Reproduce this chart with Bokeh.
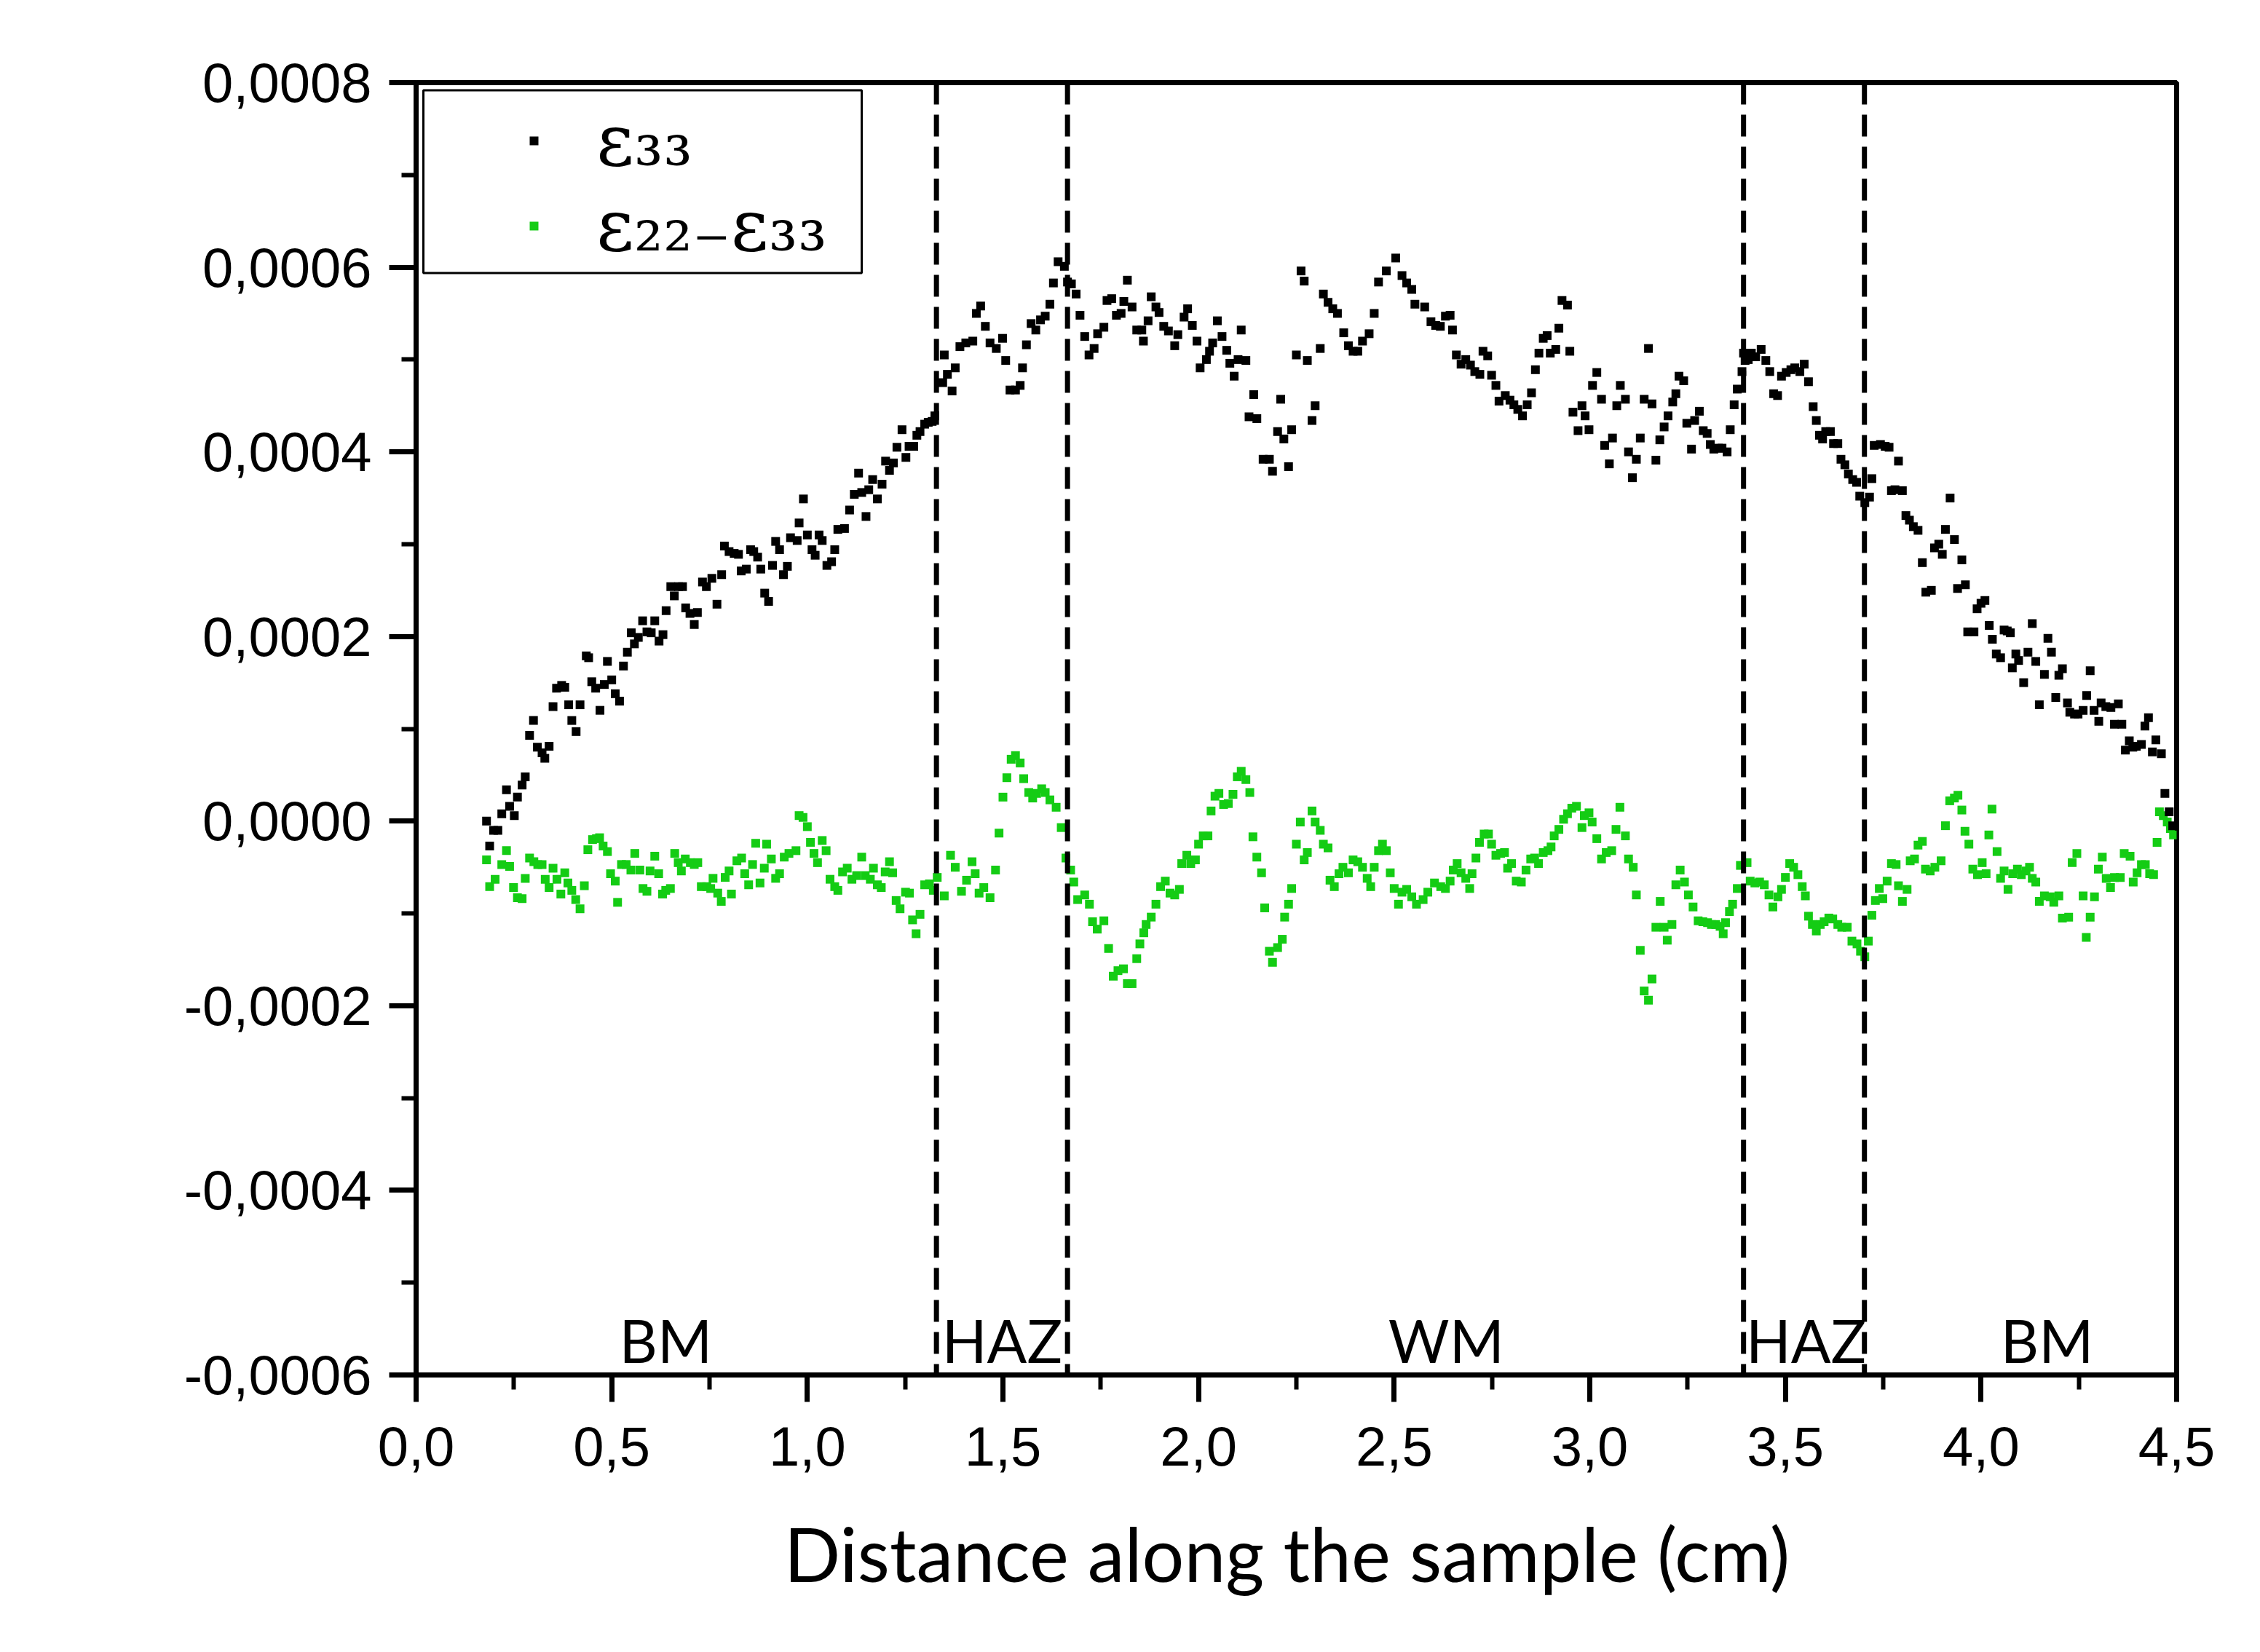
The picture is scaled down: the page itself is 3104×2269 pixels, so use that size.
from bokeh.plotting import figure
from bokeh.models import Range1d, FixedTicker, Span, BoxAnnotation, Legend, LegendItem
from bokeh.embed import file_html
from bokeh.resources import INLINE

# ---------------- data (strain in units of 1e-4, distance in cm) ----------------
eps33_x = [
    0.180, 0.188, 0.198, 0.209, 0.219, 0.231, 0.239, 0.251, 0.259, 0.271,
    0.279, 0.290, 0.300, 0.310, 0.322, 0.329, 0.340, 0.350, 0.359, 0.372,
    0.380, 0.390, 0.398, 0.409, 0.419, 0.435, 0.441, 0.449, 0.459, 0.470,
    0.481, 0.489, 0.500, 0.509, 0.520, 0.530, 0.540, 0.550, 0.558, 0.568,
    0.579, 0.590, 0.601, 0.610, 0.621, 0.631, 0.639, 0.651, 0.660, 0.671,
    0.681, 0.689, 0.700, 0.711, 0.719, 0.732, 0.742, 0.756, 0.769, 0.781,
    0.788, 0.800, 0.813, 0.824, 0.831, 0.844, 0.855, 0.863, 0.873, 0.881,
    0.891, 0.901, 0.911, 0.919, 0.929, 0.939, 0.949, 0.957, 0.974, 0.979,
    0.990, 1.000, 1.012, 1.020, 1.030, 1.038, 1.050, 1.062, 1.070, 1.078,
    1.095, 1.108, 1.120, 1.131, 1.139, 1.150, 1.157, 1.167, 1.179, 1.191,
    1.200, 1.210, 1.220, 1.229, 1.242, 1.252, 1.260, 1.272, 1.280, 1.288,
    1.300, 1.309, 1.319, 1.326,
    1.346, 1.350, 1.358, 1.370, 1.378, 1.390, 1.405, 1.423, 1.432, 1.443,
    1.455, 1.467, 1.483, 1.499, 1.507, 1.518, 1.532, 1.544, 1.550, 1.560,
    1.572, 1.584, 1.596, 1.608, 1.620, 1.629, 1.641, 1.657, 1.665, 1.675,
    1.687, 1.697, 1.709, 1.720, 1.733, 1.742, 1.758, 1.766, 1.778, 1.790,
    1.802, 1.809, 1.818, 1.830, 1.842, 1.855, 1.859, 1.871, 1.879, 1.891,
    1.899, 1.911, 1.923, 1.939, 1.947, 1.963, 1.972, 1.984, 1.996, 2.004,
    2.020, 2.028, 2.036, 2.048, 2.060, 2.072, 2.080, 2.091, 2.101, 2.109,
    2.121, 2.129, 2.141, 2.149, 2.165, 2.181, 2.189, 2.202, 2.210, 2.218,
    2.230, 2.238, 2.250, 2.262, 2.270, 2.278, 2.290, 2.298, 2.311, 2.319,
    2.331, 2.343, 2.355, 2.371, 2.383, 2.395, 2.407, 2.419, 2.436, 2.449,
    2.460, 2.480, 2.504, 2.520, 2.532, 2.545, 2.553,
    2.578, 2.594, 2.606, 2.618, 2.631, 2.643, 2.649, 2.659, 2.671, 2.683,
    2.695, 2.706, 2.719, 2.727, 2.739, 2.749, 2.760, 2.768, 2.784, 2.796,
    2.806, 2.816, 2.828, 2.840, 2.851, 2.861, 2.870, 2.881, 2.891, 2.899,
    2.913, 2.921, 2.929, 2.943, 2.949, 2.957, 2.970, 2.980, 2.988, 2.998,
    3.007, 3.018, 3.030, 3.038, 3.050, 3.058, 3.069, 3.078, 3.091, 3.099,
    3.109, 3.119, 3.129, 3.139, 3.150, 3.159, 3.169, 3.179, 3.190, 3.200,
    3.212, 3.220, 3.228, 3.240, 3.248, 3.260, 3.268, 3.280, 3.290, 3.300,
    3.308, 3.317, 3.329, 3.338, 3.351, 3.359, 3.369, 3.377, 3.389, 3.393,
    3.397, 3.405, 3.413, 3.424, 3.438, 3.450, 3.460, 3.470, 3.480, 3.490,
    3.502, 3.514, 3.524, 3.537, 3.548, 3.559, 3.571, 3.579, 3.587, 3.595,
    3.603, 3.615, 3.623, 3.634, 3.642, 3.652, 3.661, 3.672, 3.682, 3.690,
    3.703, 3.715, 3.721, 3.727, 3.743, 3.755, 3.765, 3.771, 3.780, 3.789,
    3.799, 3.808, 3.817, 3.827, 3.839, 3.850, 3.859, 3.873, 3.881, 3.892,
    3.901, 3.909, 3.921, 3.932, 3.940, 3.951, 3.960, 3.966, 3.982, 3.990,
    4.000, 4.010, 4.021, 4.029, 4.039, 4.050, 4.059, 4.067, 4.075, 4.080,
    4.089, 4.096, 4.109, 4.120, 4.131, 4.140, 4.149, 4.162, 4.171, 4.180,
    4.191, 4.199, 4.208, 4.221, 4.227, 4.239, 4.248, 4.261, 4.270, 4.279,
    4.289, 4.301, 4.307, 4.319, 4.332, 4.341, 4.351, 4.360, 4.369, 4.379,
    4.388, 4.397, 4.410, 4.419, 4.428, 4.438, 4.447, 4.461, 4.470, 4.481,
    4.490,
]
eps33_y = [
    0.00, -0.27, -0.10, -0.10, 0.08, 0.34, 0.16, 0.06, 0.26, 0.39,
    0.48, 0.93, 1.09, 0.80, 0.74, 0.68, 0.81, 1.24, 1.44, 1.47,
    1.45, 1.26, 1.09, 0.97, 1.26, 1.79, 1.77, 1.51, 1.44, 1.20,
    1.48, 1.73, 1.53, 1.38, 1.30, 1.68, 1.83, 2.04, 1.92, 1.99,
    2.17, 2.05, 2.04, 2.17, 1.95, 2.02, 2.28, 2.54, 2.44, 2.54,
    2.54, 2.31, 2.25, 2.13, 2.26, 2.59, 2.54, 2.63, 2.35, 2.67,
    2.98, 2.92, 2.90, 2.89, 2.71, 2.73, 2.94, 2.92, 2.86, 2.73,
    2.47, 2.38, 2.77, 3.03, 2.94, 2.67, 2.76, 3.07, 3.04, 3.23,
    3.49, 3.10, 2.94, 2.88, 3.10, 3.04, 2.77, 2.81, 2.94, 3.16,
    3.17, 3.37, 3.54, 3.77, 3.56, 3.30, 3.59, 3.70, 3.49, 3.65,
    3.90, 3.80, 3.88, 4.05, 4.24, 3.94, 4.06, 4.06, 4.18, 4.22,
    4.30, 4.32, 4.33, 4.39,
    4.75, 5.05, 4.84, 4.66, 4.91, 5.14, 5.18, 5.20, 5.50, 5.58,
    5.36, 5.18, 5.12, 5.23, 4.99, 4.67, 4.67, 4.72, 4.91, 5.16,
    5.39, 5.32, 5.43, 5.47, 5.60, 5.83, 6.06, 6.01, 5.84, 5.82,
    5.71, 5.48, 5.25, 5.05, 5.12, 5.28, 5.35, 5.64, 5.66, 5.48,
    5.50, 5.63, 5.86, 5.57, 5.32, 5.32, 5.20, 5.42, 5.68, 5.57,
    5.51, 5.36, 5.31, 5.15, 5.27, 5.46, 5.55, 5.37, 5.20, 4.91,
    5.00, 5.09, 5.18, 5.42, 5.25, 5.10, 4.96, 4.82, 5.00, 5.32,
    4.99, 4.38, 4.62, 4.36, 3.92, 3.92, 3.79, 4.22, 4.57, 4.14,
    3.84, 4.24, 5.05, 5.96, 5.85, 4.99, 4.34, 4.50, 5.12, 5.71,
    5.62, 5.55, 5.50, 5.29, 5.15, 5.09, 5.09, 5.20, 5.28, 5.50,
    5.84, 5.96, 6.10, 5.91, 5.83, 5.76, 5.60,
    5.57, 5.41, 5.37, 5.36, 5.47, 5.48, 5.32, 5.05, 4.95, 5.00,
    4.94, 4.87, 4.84, 5.09, 5.04, 4.83, 4.72, 4.55, 4.61, 4.56,
    4.51, 4.46, 4.39, 4.51, 4.64, 4.89, 5.07, 5.23, 5.26, 5.07,
    5.11, 5.34, 5.64, 5.59, 5.09, 4.43, 4.23, 4.50, 4.39, 4.24,
    4.72, 4.86, 4.57, 4.07, 3.87, 4.15, 4.50, 4.72, 4.57, 4.00,
    3.72, 3.92, 4.15, 4.57, 5.12, 4.52, 3.91, 4.13, 4.27, 4.39,
    4.54, 4.63, 4.82, 4.77, 4.31, 4.03, 4.34, 4.44, 4.23, 4.20,
    4.08, 4.03, 4.04, 4.04, 4.00, 4.24, 4.51, 4.68, 4.87, 5.07,
    4.99, 5.00, 5.07, 5.03, 5.11, 4.99, 4.87, 4.63, 4.61, 4.82,
    4.86, 4.89, 4.91, 4.87, 4.95, 4.76, 4.49, 4.34, 4.18, 4.14,
    4.22, 4.22, 4.09, 4.09, 3.92, 3.86, 3.76, 3.70, 3.67, 3.52,
    3.45, 3.51, 3.71, 4.07, 4.08, 4.06, 4.05, 3.58, 3.59, 3.90,
    3.58, 3.31, 3.26, 3.19, 3.15, 2.80, 2.48, 2.50, 2.96, 3.00,
    2.89, 3.16, 3.50, 3.05, 2.52, 2.83, 2.56, 2.05, 2.05, 2.30,
    2.36, 2.39, 2.12, 1.97, 1.81, 1.77, 2.07, 2.06, 2.04, 1.66,
    1.81, 1.74, 1.50, 1.83, 2.14, 1.73, 1.26, 1.59, 1.98, 1.83,
    1.34, 1.58, 1.65, 1.28, 1.18, 1.16, 1.16, 1.20, 1.36, 1.63,
    1.20, 1.08, 1.28, 1.24, 1.23, 1.05, 1.27, 1.05, 0.77, 0.87,
    0.80, 0.81, 0.83, 1.03, 1.12, 0.75, 0.88, 0.73, 0.30, 0.10,
    -0.05,
]

diff_x = [
    0.180, 0.188, 0.202, 0.219, 0.231, 0.239, 0.249, 0.259, 0.271, 0.279,
    0.290, 0.301, 0.311, 0.322, 0.330, 0.340, 0.350, 0.360, 0.370, 0.380,
    0.388, 0.398, 0.408, 0.419, 0.430, 0.439, 0.451, 0.461, 0.469, 0.478,
    0.489, 0.497, 0.509, 0.515, 0.525, 0.537, 0.549, 0.559, 0.572, 0.580,
    0.590, 0.598, 0.610, 0.620, 0.630, 0.638, 0.650, 0.661, 0.670, 0.678,
    0.688, 0.701, 0.711, 0.720, 0.729, 0.743, 0.753, 0.759, 0.771, 0.780,
    0.790, 0.800, 0.806, 0.820, 0.832, 0.840, 0.850, 0.860, 0.868, 0.879,
    0.890, 0.896, 0.908, 0.919, 0.929, 0.941, 0.953, 0.971, 0.979, 0.989,
    1.000, 1.008, 1.017, 1.026, 1.038, 1.048, 1.058, 1.070, 1.078, 1.090,
    1.102, 1.114, 1.126, 1.139, 1.148, 1.161, 1.169, 1.179, 1.189, 1.199,
    1.210, 1.218, 1.227, 1.237, 1.251, 1.261, 1.269, 1.278, 1.288, 1.300,
    1.312, 1.322, 1.332,
    1.350, 1.366, 1.378, 1.394, 1.407, 1.421, 1.429, 1.439, 1.451, 1.467,
    1.481, 1.490, 1.500, 1.510, 1.521, 1.532, 1.544, 1.553, 1.566, 1.576,
    1.586, 1.599, 1.608, 1.620, 1.636, 1.649, 1.661, 1.673, 1.681, 1.691,
    1.709, 1.721, 1.729, 1.741, 1.758, 1.770, 1.782, 1.794, 1.808, 1.818,
    1.830, 1.842, 1.850, 1.860, 1.866, 1.879, 1.891, 1.903, 1.915, 1.927,
    1.939, 1.951, 1.957, 1.970, 1.980, 1.992, 2.000, 2.012, 2.024, 2.032,
    2.042, 2.052, 2.064, 2.076, 2.088, 2.099, 2.109, 2.121, 2.131, 2.139,
    2.149, 2.161, 2.169, 2.181, 2.189, 2.202, 2.214, 2.220, 2.230, 2.238,
    2.250, 2.260, 2.270, 2.278, 2.290, 2.298, 2.311, 2.319, 2.331, 2.336,
    2.347, 2.359, 2.369, 2.383, 2.395, 2.407, 2.419, 2.431, 2.440, 2.449,
    2.460, 2.470, 2.480, 2.490, 2.500, 2.511, 2.520, 2.532, 2.545, 2.557,
    2.574, 2.586, 2.603, 2.619, 2.631, 2.643, 2.651, 2.661, 2.671, 2.683,
    2.693, 2.699, 2.709, 2.718, 2.730, 2.741, 2.749, 2.760, 2.772, 2.782,
    2.790, 2.800, 2.812, 2.825, 2.837, 2.849, 2.859, 2.869, 2.881, 2.893,
    2.901, 2.909, 2.921, 2.933, 2.943, 2.954, 2.966, 2.980, 2.986, 2.998,
    3.006, 3.018, 3.030, 3.042, 3.056, 3.067, 3.077, 3.091, 3.099, 3.111,
    3.119, 3.129, 3.139, 3.150, 3.159, 3.169, 3.180, 3.190, 3.198, 3.210,
    3.220, 3.231, 3.242, 3.252, 3.264, 3.277, 3.289, 3.301, 3.311, 3.322,
    3.333, 3.341, 3.347, 3.357, 3.365, 3.377, 3.385, 3.402, 3.410, 3.422,
    3.434, 3.446, 3.458, 3.468, 3.481, 3.490, 3.500, 3.511, 3.521, 3.532,
    3.543, 3.551, 3.559, 3.569, 3.579, 3.589, 3.599, 3.611, 3.621, 3.634,
    3.644, 3.658, 3.670, 3.683, 3.692, 3.703,
    3.712, 3.721, 3.730, 3.740, 3.749, 3.760, 3.771, 3.783, 3.789, 3.799,
    3.811, 3.819, 3.830, 3.839, 3.850, 3.858, 3.870, 3.882, 3.898, 3.909,
    3.920, 3.932, 3.941, 3.951, 3.959, 3.969, 3.979, 3.991, 4.003, 4.013,
    4.020, 4.028, 4.041, 4.050, 4.059, 4.069, 4.081, 4.093, 4.103, 4.115,
    4.124, 4.131, 4.140, 4.149, 4.162, 4.177, 4.186, 4.199, 4.208, 4.224,
    4.233, 4.245, 4.261, 4.269, 4.279, 4.290, 4.300, 4.310, 4.320, 4.331,
    4.341, 4.356, 4.366, 4.381, 4.389, 4.399, 4.410, 4.420, 4.431, 4.441,
    4.450, 4.456, 4.466, 4.476, 4.484, 4.492,
]
diff_y = [
    -0.42, -0.71, -0.63, -0.47, -0.32, -0.49, -0.72, -0.83, -0.84, -0.62,
    -0.40, -0.44, -0.47, -0.47, -0.63, -0.72, -0.51, -0.63, -0.79, -0.56,
    -0.67, -0.75, -0.85, -0.95, -0.70, -0.31, -0.20, -0.19, -0.18, -0.27,
    -0.33, -0.57, -0.65, -0.88, -0.47, -0.47, -0.53, -0.35, -0.53, -0.73,
    -0.76, -0.54, -0.38, -0.57, -0.79, -0.75, -0.73, -0.35, -0.45, -0.54,
    -0.41, -0.45, -0.47, -0.45, -0.71, -0.71, -0.73, -0.62, -0.78, -0.87,
    -0.61, -0.54, -0.79, -0.43, -0.40, -0.57, -0.69, -0.47, -0.24, -0.67,
    -0.51, -0.25, -0.41, -0.62, -0.57, -0.39, -0.35, -0.32, 0.06, 0.04,
    -0.06, -0.23, -0.35, -0.45, -0.21, -0.32, -0.63, -0.71, -0.75, -0.55,
    -0.51, -0.63, -0.59, -0.39, -0.59, -0.63, -0.51, -0.69, -0.72, -0.55,
    -0.44, -0.56, -0.86, -0.95, -0.77, -0.78, -1.07, -1.22, -1.01, -0.69,
    -0.68, -0.75, -0.61,
    -0.81, -0.37, -0.50, -0.76, -0.64, -0.44, -0.57, -0.78, -0.72, -0.83,
    -0.53, -0.13, 0.26, 0.47, 0.67, 0.71, 0.63, 0.46, 0.31, 0.25,
    0.30, 0.35, 0.31, 0.23, 0.15, -0.07, -0.40, -0.53, -0.66, -0.85,
    -0.80, -0.90, -1.09, -1.17, -1.08, -1.38, -1.68, -1.62, -1.60, -1.76,
    -1.76, -1.49, -1.33, -1.21, -1.12, -1.04, -0.90, -0.71, -0.65, -0.78,
    -0.80, -0.74, -0.46, -0.37, -0.46, -0.42, -0.25, -0.16, -0.16, 0.11,
    0.27, 0.30, 0.18, 0.19, 0.29, 0.48, 0.54, 0.45, 0.31, -0.17,
    -0.39, -0.56, -0.94, -1.41, -1.53, -1.37, -1.28, -1.04, -0.90, -0.73,
    -0.25, -0.01, -0.42, -0.34, 0.11, -0.01, -0.10, -0.25, -0.29, -0.64,
    -0.71, -0.57, -0.50, -0.56, -0.42, -0.44, -0.50, -0.62, -0.71, -0.50,
    -0.32, -0.25, -0.32, -0.56, -0.73, -0.90, -0.77, -0.74, -0.82, -0.90,
    -0.85, -0.77, -0.67, -0.71, -0.73, -0.65, -0.53, -0.46, -0.56, -0.62,
    -0.73, -0.57, -0.40, -0.23, -0.14, -0.14, -0.25, -0.37, -0.35, -0.34,
    -0.51, -0.46, -0.65, -0.66, -0.53, -0.41, -0.40, -0.46, -0.34, -0.32,
    -0.28, -0.16, -0.09, 0.02, 0.08, 0.14, 0.16, -0.07, 0.06, 0.09,
    -0.01, -0.19, -0.41, -0.34, -0.32, -0.09, 0.15, -0.16, -0.41, -0.50,
    -0.80, -1.40, -1.84, -1.94, -1.71, -1.15, -0.87, -1.15, -1.29, -1.12,
    -0.69, -0.53, -0.66, -0.80, -0.93, -1.08, -1.09, -1.10, -1.12, -1.12,
    -1.14, -1.22, -1.10, -0.98, -0.90, -0.73, -0.48, -0.45, -0.65, -0.67,
    -0.66, -0.69, -0.80, -0.93, -0.82, -0.74, -0.61, -0.46, -0.50, -0.58,
    -0.71, -0.81, -1.03, -1.12, -1.19, -1.12, -1.09, -1.05, -1.06, -1.12,
    -1.15, -1.15, -1.30, -1.33, -1.41, -1.47,
    -1.30, -1.02, -0.86, -0.73, -0.84, -0.65, -0.46, -0.47, -0.70, -0.87,
    -0.74, -0.43, -0.41, -0.26, -0.22, -0.52, -0.54, -0.50, -0.43, -0.05,
    0.22, 0.25, 0.28, 0.12, -0.11, -0.25, -0.52, -0.58, -0.45, -0.57,
    -0.15, 0.13, -0.33, -0.62, -0.54, -0.74, -0.57, -0.52, -0.58, -0.54,
    -0.50, -0.62, -0.66, -0.87, -0.81, -0.82, -0.88, -0.81, -1.05, -1.04,
    -0.45, -0.35, -0.81, -1.26, -1.04, -0.82, -0.52, -0.39, -0.62, -0.72,
    -0.61, -0.61, -0.35, -0.38, -0.66, -0.56, -0.47, -0.47, -0.57, -0.58,
    -0.23, 0.10, 0.06, -0.01, -0.08, -0.15,
]

zone_bounds = [1.330, 1.665, 3.393, 3.702]
zone_names = ["BM", "HAZ", "WM", "HAZ", "BM"]
zone_centers = [0.638, 1.498, 2.633, 3.553, 4.169]

x_ticks = [0, 0.5, 1, 1.5, 2, 2.5, 3, 3.5, 4, 4.5]
x_tick_labels = ["0,0", "0,5", "1,0", "1,5", "2,0", "2,5", "3,0", "3,5", "4,0", "4,5"]
x_minor_ticks = [0.25, 0.75, 1.25, 1.75, 2.25, 2.75, 3.25, 3.75, 4.25]
y_ticks = [-6, -4, -2, 0, 2, 4, 6, 8]
y_tick_labels = ["-0,0006", "-0,0004", "-0,0002", "0,0000", "0,0002", "0,0004", "0,0006", "0,0008"]
y_minor_ticks = [-5, -3, -1, 1, 3, 5, 7]

series_labels = ["\u03b5\u2083\u2083", "\u03b5\u2082\u2082\u208b\u03b5\u2083\u2083"]
x_title = "Distance along the sample  (cm)"

GREEN = "#14cc14"

# ---------------- figure ----------------
p = figure(width=3088, height=2253, output_backend="svg", toolbar_location=None,
           x_range=Range1d(0, 4.5), y_range=Range1d(-6, 8),
           min_border_left=571, min_border_right=99, min_border_top=113, min_border_bottom=365)
p.grid.visible = False
p.background_fill_color = "white"
p.border_fill_color = "white"
p.outline_line_color = "black"
p.outline_line_width = 7
p.outline_line_alpha = 1.0


def key(t):
    return int(t) if float(t).is_integer() else t


p.xaxis.ticker = FixedTicker(ticks=x_ticks, minor_ticks=x_minor_ticks)
p.xaxis.major_label_overrides = {key(t): l for t, l in zip(x_ticks, x_tick_labels)}
p.yaxis.ticker = FixedTicker(ticks=y_ticks, minor_ticks=y_minor_ticks)
p.yaxis.major_label_overrides = {key(t): l for t, l in zip(y_ticks, y_tick_labels)}

for ax in (p.xaxis[0], p.yaxis[0]):
    ax.axis_line_width = 7
    ax.axis_line_color = "black"
    ax.major_tick_line_width = 7
    ax.minor_tick_line_width = 6
    ax.major_tick_line_color = "black"
    ax.minor_tick_line_color = "black"
    ax.major_tick_out = 37
    ax.major_tick_in = 0
    ax.minor_tick_out = 20
    ax.minor_tick_in = 0
    ax.major_label_text_font = "Liberation Sans"
    ax.major_label_text_font_size = "76px"
    ax.major_label_text_color = "black"
p.xaxis.major_label_standoff = 34
p.yaxis.major_label_standoff = 24

p.xaxis.axis_label = x_title
p.xaxis.axis_label_text_font = "Lato"
p.xaxis.axis_label_text_font_size = "102px"
p.xaxis.axis_label_text_font_style = "normal"
p.xaxis.axis_label_text_color = "black"
p.xaxis.axis_label_standoff = 56

# zone boundaries
for xb in zone_bounds:
    p.add_layout(Span(location=xb, dimension="height", line_color="black",
                      line_width=7, line_dash="30 14"))

# zone labels
p.text(x=zone_centers, y=-5.62, text=zone_names, text_align="center",
       text_baseline="alphabetic", text_font={"value": "Lato"},
       text_font_size={"value": "81px"}, text_color="black")

# data
r_diff = p.scatter(diff_x, diff_y, marker="square", size=12, fill_color=GREEN, line_color=None)
r_eps = p.scatter(eps33_x, eps33_y, marker="square", size=12, fill_color="black", line_color=None)

# legend frame
p.add_layout(BoxAnnotation(left=0.0186, right=1.139, bottom=5.938, top=7.918,
                           fill_color="white", fill_alpha=1.0,
                           line_color="black", line_alpha=1.0, line_width=3))

legend = Legend(items=[LegendItem(label=series_labels[0], renderers=[r_eps]),
                       LegendItem(label=series_labels[1], renderers=[r_diff])],
                location=(147, 1520), orientation="vertical",
                padding=0, spacing=-4, margin=0,
                glyph_width=30, glyph_height=112, label_height=112, label_standoff=71,
                label_text_font="DejaVu Serif", label_text_font_size="100px",
                label_text_color="black",
                border_line_alpha=0, background_fill_alpha=0)
p.add_layout(legend)

open("out.html", "w").write(file_html(p, INLINE))
